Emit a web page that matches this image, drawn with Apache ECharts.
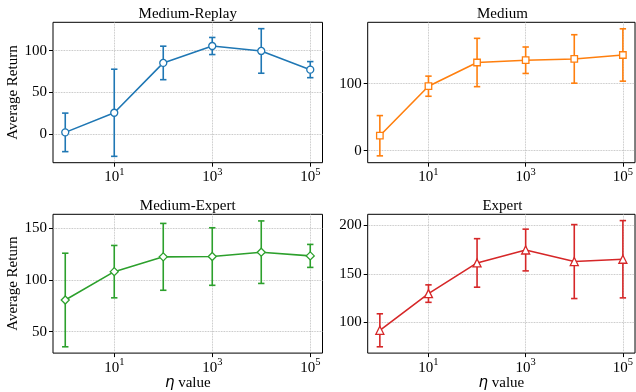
<!DOCTYPE html>
<html><head><meta charset="utf-8">
<script src="https://cdn.jsdelivr.net/npm/echarts@6/dist/echarts.min.js"></script>
<style>html,body{margin:0;padding:0;background:#fff}#c{width:636px;height:392px}</style>
</head><body><div id="c"></div>
<script>
// ---- data ----
const etaValues = [1, 10, 100, 1000, 10000, 100000];
const xTickExponents = [1, 3, 5];
const titles = ['Medium-Replay', 'Medium', 'Medium-Expert', 'Expert'];
const replayMean = [2.4, 25.8, 85.3, 105.5, 99.6, 77.3];
const replayErr  = [23, 52, 20, 10.2, 26.6, 9.6];
const mediumMean = [22.3, 96.1, 131.4, 134.8, 136.7, 142.6];
const mediumErr  = [30, 15, 36, 19.7, 36.1, 39];
const medExpMean = [80.6, 108, 122.3, 122.6, 126.8, 123.2];
const medExpErr  = [45.2, 25.3, 32.3, 27.8, 30.2, 11.1];
const expertMean = [91.8, 129.6, 161.2, 174.5, 162.6, 165];
const expertErr  = [17, 9, 25, 21.5, 38.1, 39.8];
const replayYTicks = [0, 50, 100];
const mediumYTicks = [0, 100];
const medExpYTicks = [50, 100, 150];
const expertYTicks = [100, 150, 200];
const yLabel = 'Average Return';
const xLabel = '{i|η} value';

// ---- layout/style ----
const FONT = 'Liberation Serif';
const GW = 269.5, GH = 140.4;
const panels = [
  {title: titles[0], mean: replayMean, err: replayErr, yTicks: replayYTicks, yMin: -33.8, yMax: 133.8,
   color: '#1f77b4', symbol: 'circle', size: 7, left: 53, top: 22.3, yName: true, xName: false},
  {title: titles[1], mean: mediumMean, err: mediumErr, yTicks: mediumYTicks, yMin: -17.9, yMax: 191.3,
   color: '#ff7f0e', symbol: 'rect', size: 6.5, left: 367.7, top: 22.3, yName: false, xName: false},
  {title: titles[2], mean: medExpMean, err: medExpErr, yTicks: medExpYTicks, yMin: 29.3, yMax: 163.4,
   color: '#2ca02c', symbol: 'diamond', size: 8, left: 53, top: 214.3, yName: true, xName: true},
  {title: titles[3], mean: expertMean, err: expertErr, yTicks: expertYTicks, yMin: 68.3, yMax: 211.3,
   color: '#d62728', symbol: 'triangle', size: 8, left: 367.7, top: 214.3, yName: false, xName: true}
];

const gridLine = {show: true, lineStyle: {type: 'dotted', color: '#b0b0b0', width: 0.8}};
const option = {
  animation: false,
  backgroundColor: '#fff',
  title: panels.map(p => ({
    text: p.title, left: p.left + GW / 2, top: p.top - 16, textAlign: 'center', padding: 0,
    textStyle: {fontFamily: FONT, fontSize: 15, fontWeight: 'normal', color: '#000'}
  })),
  grid: panels.map(p => ({
    left: p.left, top: p.top, width: GW, height: GH, show: true,
    borderColor: '#000', borderWidth: 1, backgroundColor: 'transparent', containLabel: false
  })),
  xAxis: panels.map((p, i) => ({
    type: 'value', gridIndex: i, min: -0.25, max: 5.25, interval: 0.25, position: 'bottom',
    axisLine: {show: false, onZero: false},
    axisTick: {show: true, inside: false, customValues: xTickExponents, length: 4, lineStyle: {color: '#000', width: 1}},
    axisLabel: {
      customValues: xTickExponents, margin: 4,
      formatter: v => '{b|10}{s|' + Math.round(v) + '}',
      rich: {
        b: {fontFamily: FONT, fontSize: 15, color: '#000', lineHeight: 18, verticalAlign: 'bottom'},
        s: {fontFamily: FONT, fontSize: 10.5, color: '#000', lineHeight: 12, verticalAlign: 'top'}
      }
    },
    splitLine: gridLine,
    name: p.xName ? xLabel : '', nameLocation: 'middle', nameGap: 21,
    nameTextStyle: {fontFamily: FONT, fontSize: 15, color: '#000',
      rich: {i: {fontFamily: 'DejaVu Sans', fontStyle: 'italic', fontSize: 15, color: '#000'}}}
  })),
  yAxis: panels.map((p, i) => ({
    type: 'value', gridIndex: i, min: p.yMin, max: p.yMax, position: 'left',
    axisLine: {show: false, onZero: false},
    axisTick: {show: true, inside: false, customValues: p.yTicks, length: 4, lineStyle: {color: '#000', width: 1}},
    axisLabel: {customValues: p.yTicks, margin: 6, fontFamily: FONT, fontSize: 15, color: '#000'},
    splitLine: gridLine,
    name: p.yName ? yLabel : '', nameLocation: 'middle', nameGap: 27, nameRotate: 90,
    nameTextStyle: {fontFamily: FONT, fontSize: 15, color: '#000'}
  })),
  series: []
};

panels.forEach((p, i) => {
  const color = p.color;
  option.series.push({
    type: 'custom', xAxisIndex: i, yAxisIndex: i, z: 2, silent: true,
    encode: {x: 0, y: [1, 2]},
    data: etaValues.map((e, j) => [Math.log10(e), p.mean[j] - p.err[j], p.mean[j] + p.err[j]]),
    renderItem: (params, api) => {
      const x = api.value(0);
      const top = api.coord([x, api.value(2)]);
      const bot = api.coord([x, api.value(1)]);
      const cap = 3.2;
      const st = {stroke: color, lineWidth: 1.6};
      return {type: 'group', children: [
        {type: 'line', shape: {x1: top[0], y1: top[1], x2: bot[0], y2: bot[1]}, style: st},
        {type: 'line', shape: {x1: top[0] - cap, y1: top[1], x2: top[0] + cap, y2: top[1]}, style: st},
        {type: 'line', shape: {x1: bot[0] - cap, y1: bot[1], x2: bot[0] + cap, y2: bot[1]}, style: st}
      ]};
    }
  });
  option.series.push({
    type: 'line', xAxisIndex: i, yAxisIndex: i, z: 3, silent: true,
    data: etaValues.map((e, j) => [Math.log10(e), p.mean[j]]),
    symbol: p.symbol, symbolSize: p.size, showAllSymbol: true,
    lineStyle: {color: color, width: 1.6},
    itemStyle: {color: '#fff', borderColor: color, borderWidth: 1.3},
    emphasis: {disabled: true}
  });
});

const chart = echarts.init(document.getElementById('c'), null, {renderer: 'canvas'});
chart.setOption(option);
</script>
</body></html>
